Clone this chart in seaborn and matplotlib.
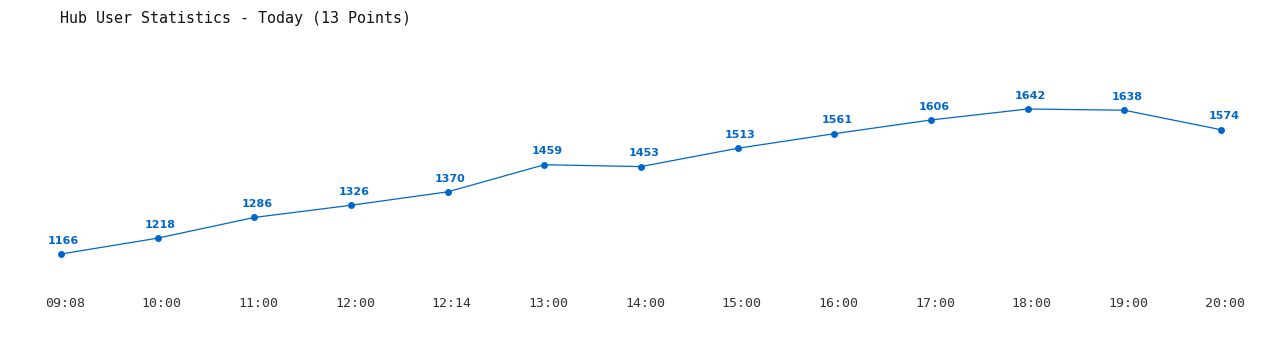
import matplotlib
matplotlib.use("Agg")
import matplotlib.pyplot as plt
import matplotlib.transforms as mtransforms
import seaborn as sns
import pandas as pd

times = ["09:08", "10:00", "11:00", "12:00", "12:14", "13:00", "14:00",
         "15:00", "16:00", "17:00", "18:00", "19:00", "20:00"]
users = [1166, 1218, 1286, 1326, 1370, 1459, 1453, 1513, 1561, 1606, 1642, 1638, 1574]

sns.set_theme(style="white")
plt.rcParams['font.family'] = ['DejaVu Sans Mono', 'DejaVu Sans']

df = pd.DataFrame({"idx": range(len(times)), "users": users})

W, H = 1280, 350
fig = plt.figure(figsize=(12.8, 3.5), dpi=100)
ax = fig.add_axes([61 / W, 1 - 290 / H, (1221 - 61) / W, (290 - 60) / H])
color = "#0066cc"
sns.lineplot(data=df, x="idx", y="users", ax=ax, color=color, linewidth=0.9,
             marker="o", markersize=5, markeredgewidth=0, clip_on=False)
scale = 145 / 476.0
ax.set_xlim(0, len(times) - 1)
ax.set_ylim(1166 - 36 / scale, 1166 + 194 / scale)
for i, v in enumerate(users):
    ax.annotate(str(v), (i, v), xytext=(2, 6), textcoords="offset points",
                ha="center", va="bottom", color=color, fontsize=8,
                fontweight="bold", family=["DejaVu Sans"])
ax.set_xticks(range(len(times)))
ax.set_xticklabels(times, fontsize=9.5, color="#333333")
ax.tick_params(axis="x", length=0, pad=5)
offset = mtransforms.ScaledTranslation(4 / 100, 0, fig.dpi_scale_trans)
for lab in ax.get_xticklabels():
    lab.set_transform(lab.get_transform() + offset)
ax.set_yticks([])
ax.set_xlabel("")
ax.set_ylabel("")
for s in ax.spines.values():
    s.set_visible(False)
fig.text(60 / W, 1 - 18 / H, "Hub User Statistics - Today (13 Points)",
         fontsize=10.8, color="#111111", ha="left", va="center")
fig.savefig("out.png", dpi=100, facecolor="white")
